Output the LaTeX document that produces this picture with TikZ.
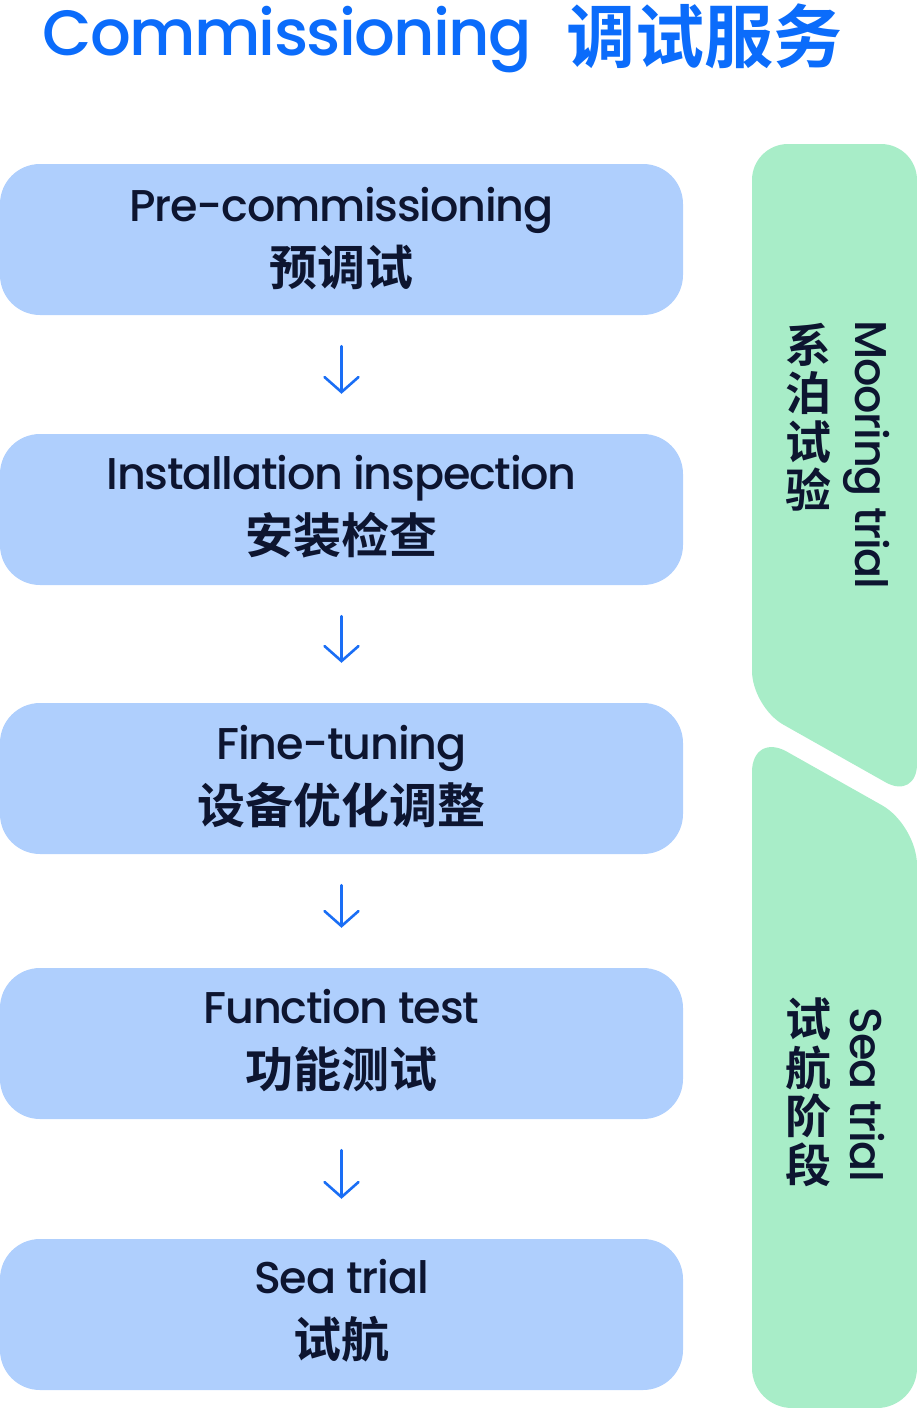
\documentclass[tikz,border=0pt]{standalone}
\usepackage{fontspec}
\setmainfont{Poppins}[UprightFont=* Medium, BoldFont=* SemiBold, LetterSpace=-2.8]
\newfontfamily\titlefont{Poppins}[UprightFont=* Medium, LetterSpace=-2.6]
\newfontfamily\cjk{Noto Sans CJK SC}[UprightFont=* Bold]
\usetikzlibrary{arrows.meta,positioning}

\definecolor{titleblue}{HTML}{0B6CFB}
\definecolor{boxblue}{HTML}{AFCFFD}
\definecolor{phasegreen}{HTML}{A8EDC8}
\definecolor{inkblue}{HTML}{0D1530}
\definecolor{arrowblue}{HTML}{1A6EF5}

\tikzset{
  stepbox/.style={fill=boxblue, rounded corners=40pt, minimum width=683pt,
    minimum height=151pt, inner sep=0pt},
  entext/.style={text=inkblue, font=\fontsize{44.5}{48}\selectfont, anchor=base, inner sep=0pt},
  cntext/.style={text=inkblue, font=\cjk\fontsize{48}{48.5}\selectfont, inner sep=0pt},
  flow/.style={arrowblue, line width=2.6pt, line cap=round,
    -{Straight Barb[length=15pt,width=34pt,line cap=round]},
    shorten <=31pt, shorten >=40pt},
}

\begin{document}
\begin{tikzpicture}[x=1pt,y=-1pt]
    \useasboundingbox (0,0) rectangle (917,1408);

    % title
    \node[text=titleblue, font=\titlefont\fontsize{64}{70}\selectfont, anchor=base west, inner sep=0pt]
        (title) at (42,55) {Commissioning};
    \node[text=titleblue, font=\cjk\fontsize{69}{72}\selectfont, anchor=base west, inner sep=0pt]
        (title-zh) at (566,62) {调试服务};

    % phases
    \fill[phasegreen, rounded corners=36pt]
        (752,707) -- (752,144) -- (917,144) -- (917,800) -- cycle;
    \fill[phasegreen, rounded corners=40pt]
        (752,732) -- (917,825) -- (917,1408) -- (752,1408) -- cycle;

    \node[entext, anchor=center, rotate=-90] (moor-en) at (867,455) {Mooring trial};
    \node[cntext, font=\cjk\fontsize{46}{48.5}\selectfont, anchor=north, align=center]
        (moor-zh) at (808,323) {系\\泊\\试\\验};
    \node[entext, anchor=center, rotate=-90] (seap-en) at (867,1095) {Sea trial};
    \node[cntext, font=\cjk\fontsize{46}{48.5}\selectfont, anchor=north, align=center]
        (seap-zh) at (808,998) {试\\航\\阶\\段};

    % steps
    \node[stepbox] (pre)  at (341.5,239.5) {};
    \node[stepbox] (inst) at (341.5,509.5) {};
    \node[stepbox] (fine) at (341.5,778.5) {};
    \node[stepbox] (func) at (341.5,1043.5) {};
    \node[stepbox] (sea)  at (341.5,1314.5) {};

    \node[entext] (pre-en)  at ([yshift=-58pt]pre.north)  {Pre-commissioning};
    \node[cntext] (pre-zh)  at ([yshift=-104pt]pre.north) {预调试};
    \node[entext] (inst-en) at ([yshift=-56pt]inst.north) {Installation inspection};
    \node[cntext] (inst-zh) at ([yshift=-101pt]inst.north) {安装检查};
    \node[entext] (fine-en) at ([yshift=-57pt]fine.north) {Fine-tuning};
    \node[cntext] (fine-zh) at ([yshift=-102pt]fine.north) {设备优化调整};
    \node[entext] (func-en) at ([yshift=-56pt]func.north) {Function test};
    \node[cntext] (func-zh) at ([yshift=-101pt]func.north) {功能测试};
    \node[entext] (sea-en)  at ([yshift=-55pt]sea.north)  {Sea trial};
    \node[cntext] (sea-zh)  at ([yshift=-100pt]sea.north)  {试航};

    \draw[flow] (pre) -- (inst);
    \draw[flow] (inst) -- (fine);
    \draw[flow] (fine) -- (func);
    \draw[flow] (func) -- (sea);
\end{tikzpicture}
\end{document}
